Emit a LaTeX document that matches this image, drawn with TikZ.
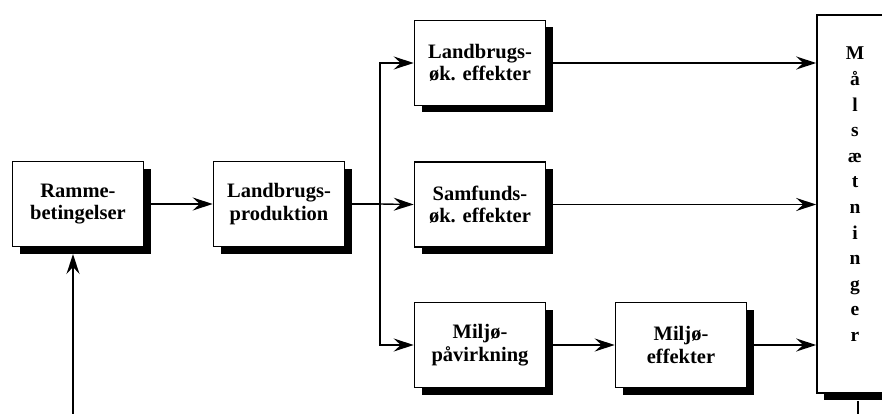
\documentclass[tikz,border=0pt]{standalone}
\usepackage{fontspec}
\setmainfont{Liberation Serif}
\usetikzlibrary{arrows.meta,shadows}
\tikzset{
  blk/.style={draw, fill=white, line width=1.6pt, align=center, inner sep=0pt,
    minimum width=131pt, minimum height=85pt,
    font=\bfseries\fontsize{20.5}{22.5}\selectfont,
    general shadow={fill=black, shadow xshift=7pt, shadow yshift=-7pt}},
  conn/.style={line width=1.4pt},
  arr/.style={conn, -{Stealth[length=20pt, width=13pt, inset=7pt]}},
}
\begin{document}
\begin{tikzpicture}[x=1pt, y=-1pt]
\useasboundingbox (0,0) rectangle (882,414);
\clip (0,0) rectangle (882,414);
\node[blk] (ramme) at (78,204) {Ramme-\\betingelser};
\node[blk] (prod) at (279,204) {Landbrugs-\\produktion};
\node[blk] (lok) at (480,63) {Landbrugs-\\øk. effekter};
\node[blk] (samf) at (480,204.5) {Samfunds-\\øk. effekter};
\node[blk] (mpv) at (480,345) {Miljø-\\påvirkning};
\node[blk] (meff) at (681,345) {Miljø-\\effekter};
\node[blk, minimum width=82pt, minimum height=378pt] (mal) at (858,204) {};
\node[anchor=north, align=center, inner sep=0pt,
  font=\bfseries\fontsize{19.5}{25.6}\selectfont] (maltxt) at (855,47)
  {M\\å\\l\\s\\æ\\t\\n\\i\\n\\g\\e\\r};
\coordinate (split) at (380,204);
\coordinate (rin) at (73,254);
\coordinate (fbA) at (858,440);
\draw[arr] (ramme.east) -- (prod.west);
\draw[conn] (prod.east) -- (split);
\draw[arr] (split) |- (lok.west);
\draw[arr] (split) -- (samf.west);
\draw[arr] (split) |- (mpv.west);
\draw[arr] (mpv.east) -- (meff.west);
\draw[arr] (lok.east) -- (lok.east -| mal.west);
\draw[arr] (samf.east) -- (samf.east -| mal.west);
\draw[arr] (meff.east) -- (meff.east -| mal.west);
\draw[arr] ([yshift=-7pt]mal.south) -- (fbA) -| (rin);
\end{tikzpicture}
\end{document}
